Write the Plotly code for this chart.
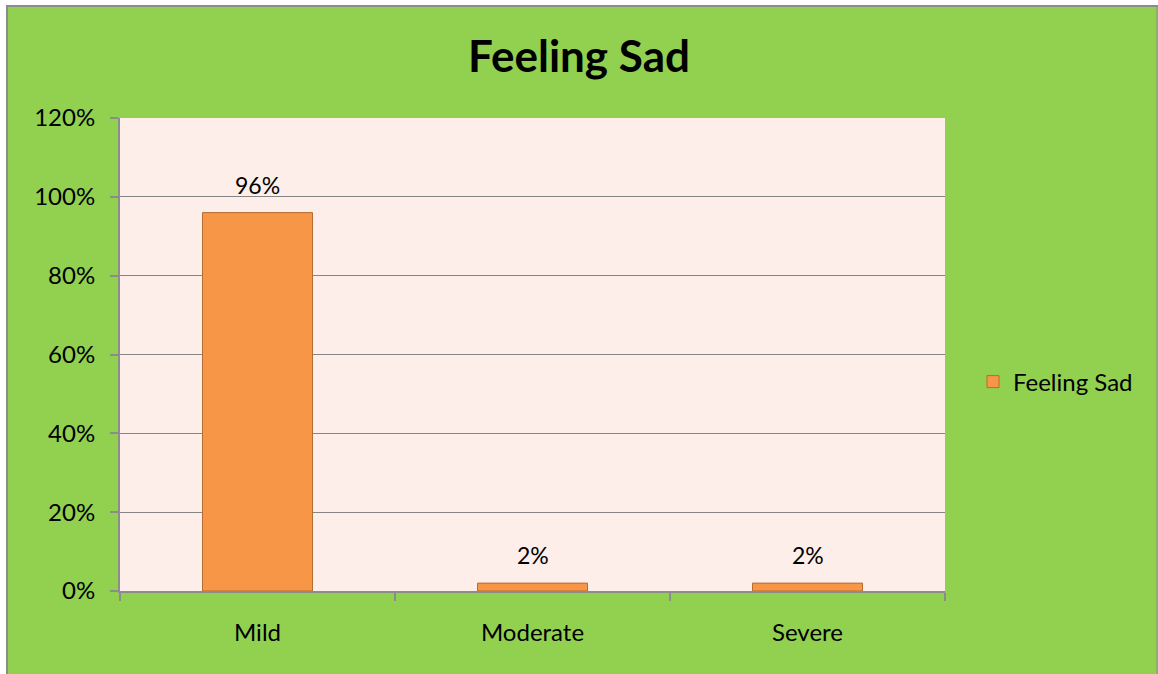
import plotly.graph_objects as go

categories = ['Mild', 'Moderate', 'Severe']
feeling_sad = [0.96, 0.02, 0.02]
y_ticks = [0, 0.2, 0.4, 0.6, 0.8, 1.0, 1.2]
y_tick_labels = ['0%', '20%', '40%', '60%', '80%', '100%', '120%']

W, H = 1158, 674
L, R, T, B = 120, 213, 118, 83
pw, ph = W - L - R, H - T - B

def px(x):
    return (x - L) / pw

def py(y):
    return (H - B - y) / ph

fig = go.Figure()
fig.add_trace(go.Bar(
    x=categories,
    y=feeling_sad,
    name='Feeling Sad',
    width=0.4,
    marker=dict(color='#F79646', line=dict(color='#B66D31', width=1)),
))

# data labels above the bars
for cat, val in zip(categories, feeling_sad):
    fig.add_annotation(x=cat, y=val, text=f'{val:.0%}', showarrow=False,
                       yanchor='bottom', yshift=12, font=dict(size=23, color='black'))

# outer chart frame: white strip left/top, grey border
fig.add_shape(type='rect', xref='paper', yref='paper', x0=px(-5), x1=px(6), y0=py(-5), y1=py(H + 5),
              fillcolor='white', line_width=0, layer='above')
fig.add_shape(type='rect', xref='paper', yref='paper', x0=px(-5), x1=px(W + 5), y0=py(5), y1=py(-5),
              fillcolor='white', line_width=0, layer='above')
fig.add_shape(type='line', xref='paper', yref='paper', x0=px(7), x1=px(7), y0=py(6), y1=py(H + 5),
              line=dict(color='#8C8C8C', width=2))
fig.add_shape(type='line', xref='paper', yref='paper', x0=px(6), x1=px(W + 5), y0=py(6), y1=py(6),
              line=dict(color='#8C8C8C', width=2))
fig.add_shape(type='line', xref='paper', yref='paper', x0=px(W - 1), x1=px(W - 1), y0=py(6), y1=py(H + 5),
              line=dict(color='#8C8C8C', width=1))

fig.update_layout(
    width=W, height=H,
    margin=dict(l=L, r=R, t=T, b=B),
    paper_bgcolor='#92D050',
    plot_bgcolor='#FDEEEA',
    font=dict(family='Lato, Open Sans, sans-serif', size=24, color='black'),
    title=dict(text='<b>Feeling Sad</b>', x=0.5, xanchor='center', y=1 - 57 / H, yanchor='middle',
               font=dict(size=44, color='black')),
    showlegend=True,
    legend=dict(x=px(973), y=py(382), xanchor='left', yanchor='middle', bgcolor='rgba(0,0,0,0)',
                font=dict(size=24)),
    xaxis=dict(
        showline=True, linecolor='#8C8C8C', linewidth=2,
        ticks='outside', tickson='boundaries', ticklen=8, tickcolor='#8C8C8C', tickwidth=2,
        ticklabelstandoff=19, showgrid=False,
    ),
    yaxis=dict(
        range=[0, 1.2], tickvals=y_ticks, ticktext=y_tick_labels,
        showline=True, linecolor='#8C8C8C', linewidth=2,
        ticks='outside', ticklen=8, tickcolor='#8C8C8C', tickwidth=2,
        ticklabelstandoff=10,
        showgrid=True, gridcolor='#868686', gridwidth=1, zeroline=False,
    ),
    bargap=0.6,
)

fig.write_html('out.html', config={'displayModeBar': False},
               post_script="document.body.style.margin='0';")
